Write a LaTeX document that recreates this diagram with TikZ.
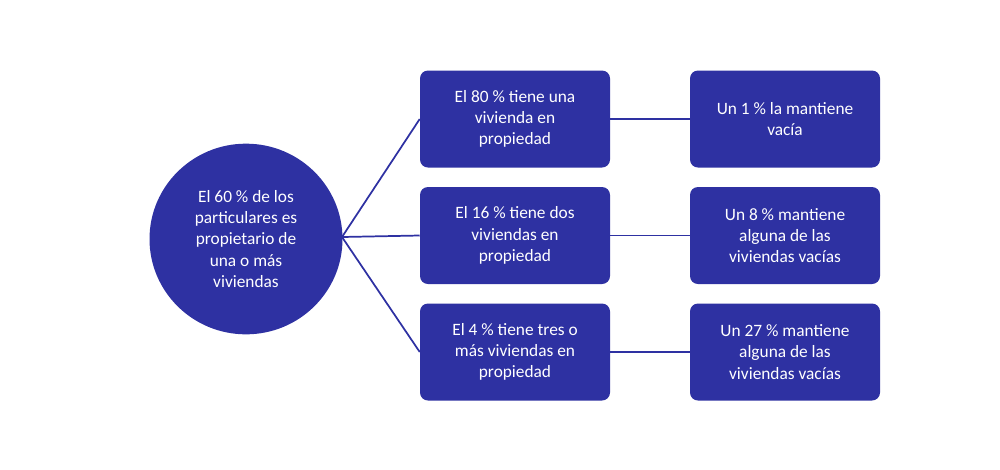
\documentclass[tikz,border=0pt]{standalone}
\usepackage{fontspec}
\setmainfont{Carlito}
\usetikzlibrary{shapes.geometric}
\definecolor{db}{HTML}{2E31A2}
\begin{document}
\begin{tikzpicture}[x=0.75pt,y=-0.75pt,
 bx/.style={fill=db,draw=none,rounded corners=6pt,minimum width=142.5pt,minimum height=72.75pt,text=white,align=center,font=\fontsize{13}{16}\selectfont,inner sep=0pt},
 ln/.style={draw=db,line width=1.3pt}]
\useasboundingbox (0,0) rectangle (1000,469);
\node[ellipse,fill=db,minimum width=144.75pt,minimum height=143pt,text=white,align=center,font=\fontsize{13}{16}\selectfont,inner sep=0pt] (c) at (246,239) {El 60 \% de los\\particulares es\\propietario de\\una o más\\viviendas};
\node[bx] (a1) at (515,119) {El 80 \% tiene una\\vivienda en\\propiedad};
\node[bx] (a2) at (515,235.5) {El 16 \% tiene dos\\viviendas en\\propiedad};
\node[bx] (a3) at (515,352) {El 4 \% tiene tres o\\más viviendas en\\propiedad};
\node[bx] (b1) at (785,119) {Un 1 \% la mantiene\\vacía};
\node[bx] (b2) at (785,235.5) {Un 8 \% mantiene\\alguna de las\\viviendas vacías};
\node[bx] (b3) at (785,352) {Un 27 \% mantiene\\alguna de las\\viviendas vacías};
\coordinate (o) at (342,237);
\draw[ln] (o) -- (a1.west);
\draw[ln] (o) -- (a2.west);
\draw[ln] (o) -- (a3.west);
\draw[ln] (a1) -- (b1);
\draw[ln] (a2) -- (b2);
\draw[ln] (a3) -- (b3);
\end{tikzpicture}
\end{document}
